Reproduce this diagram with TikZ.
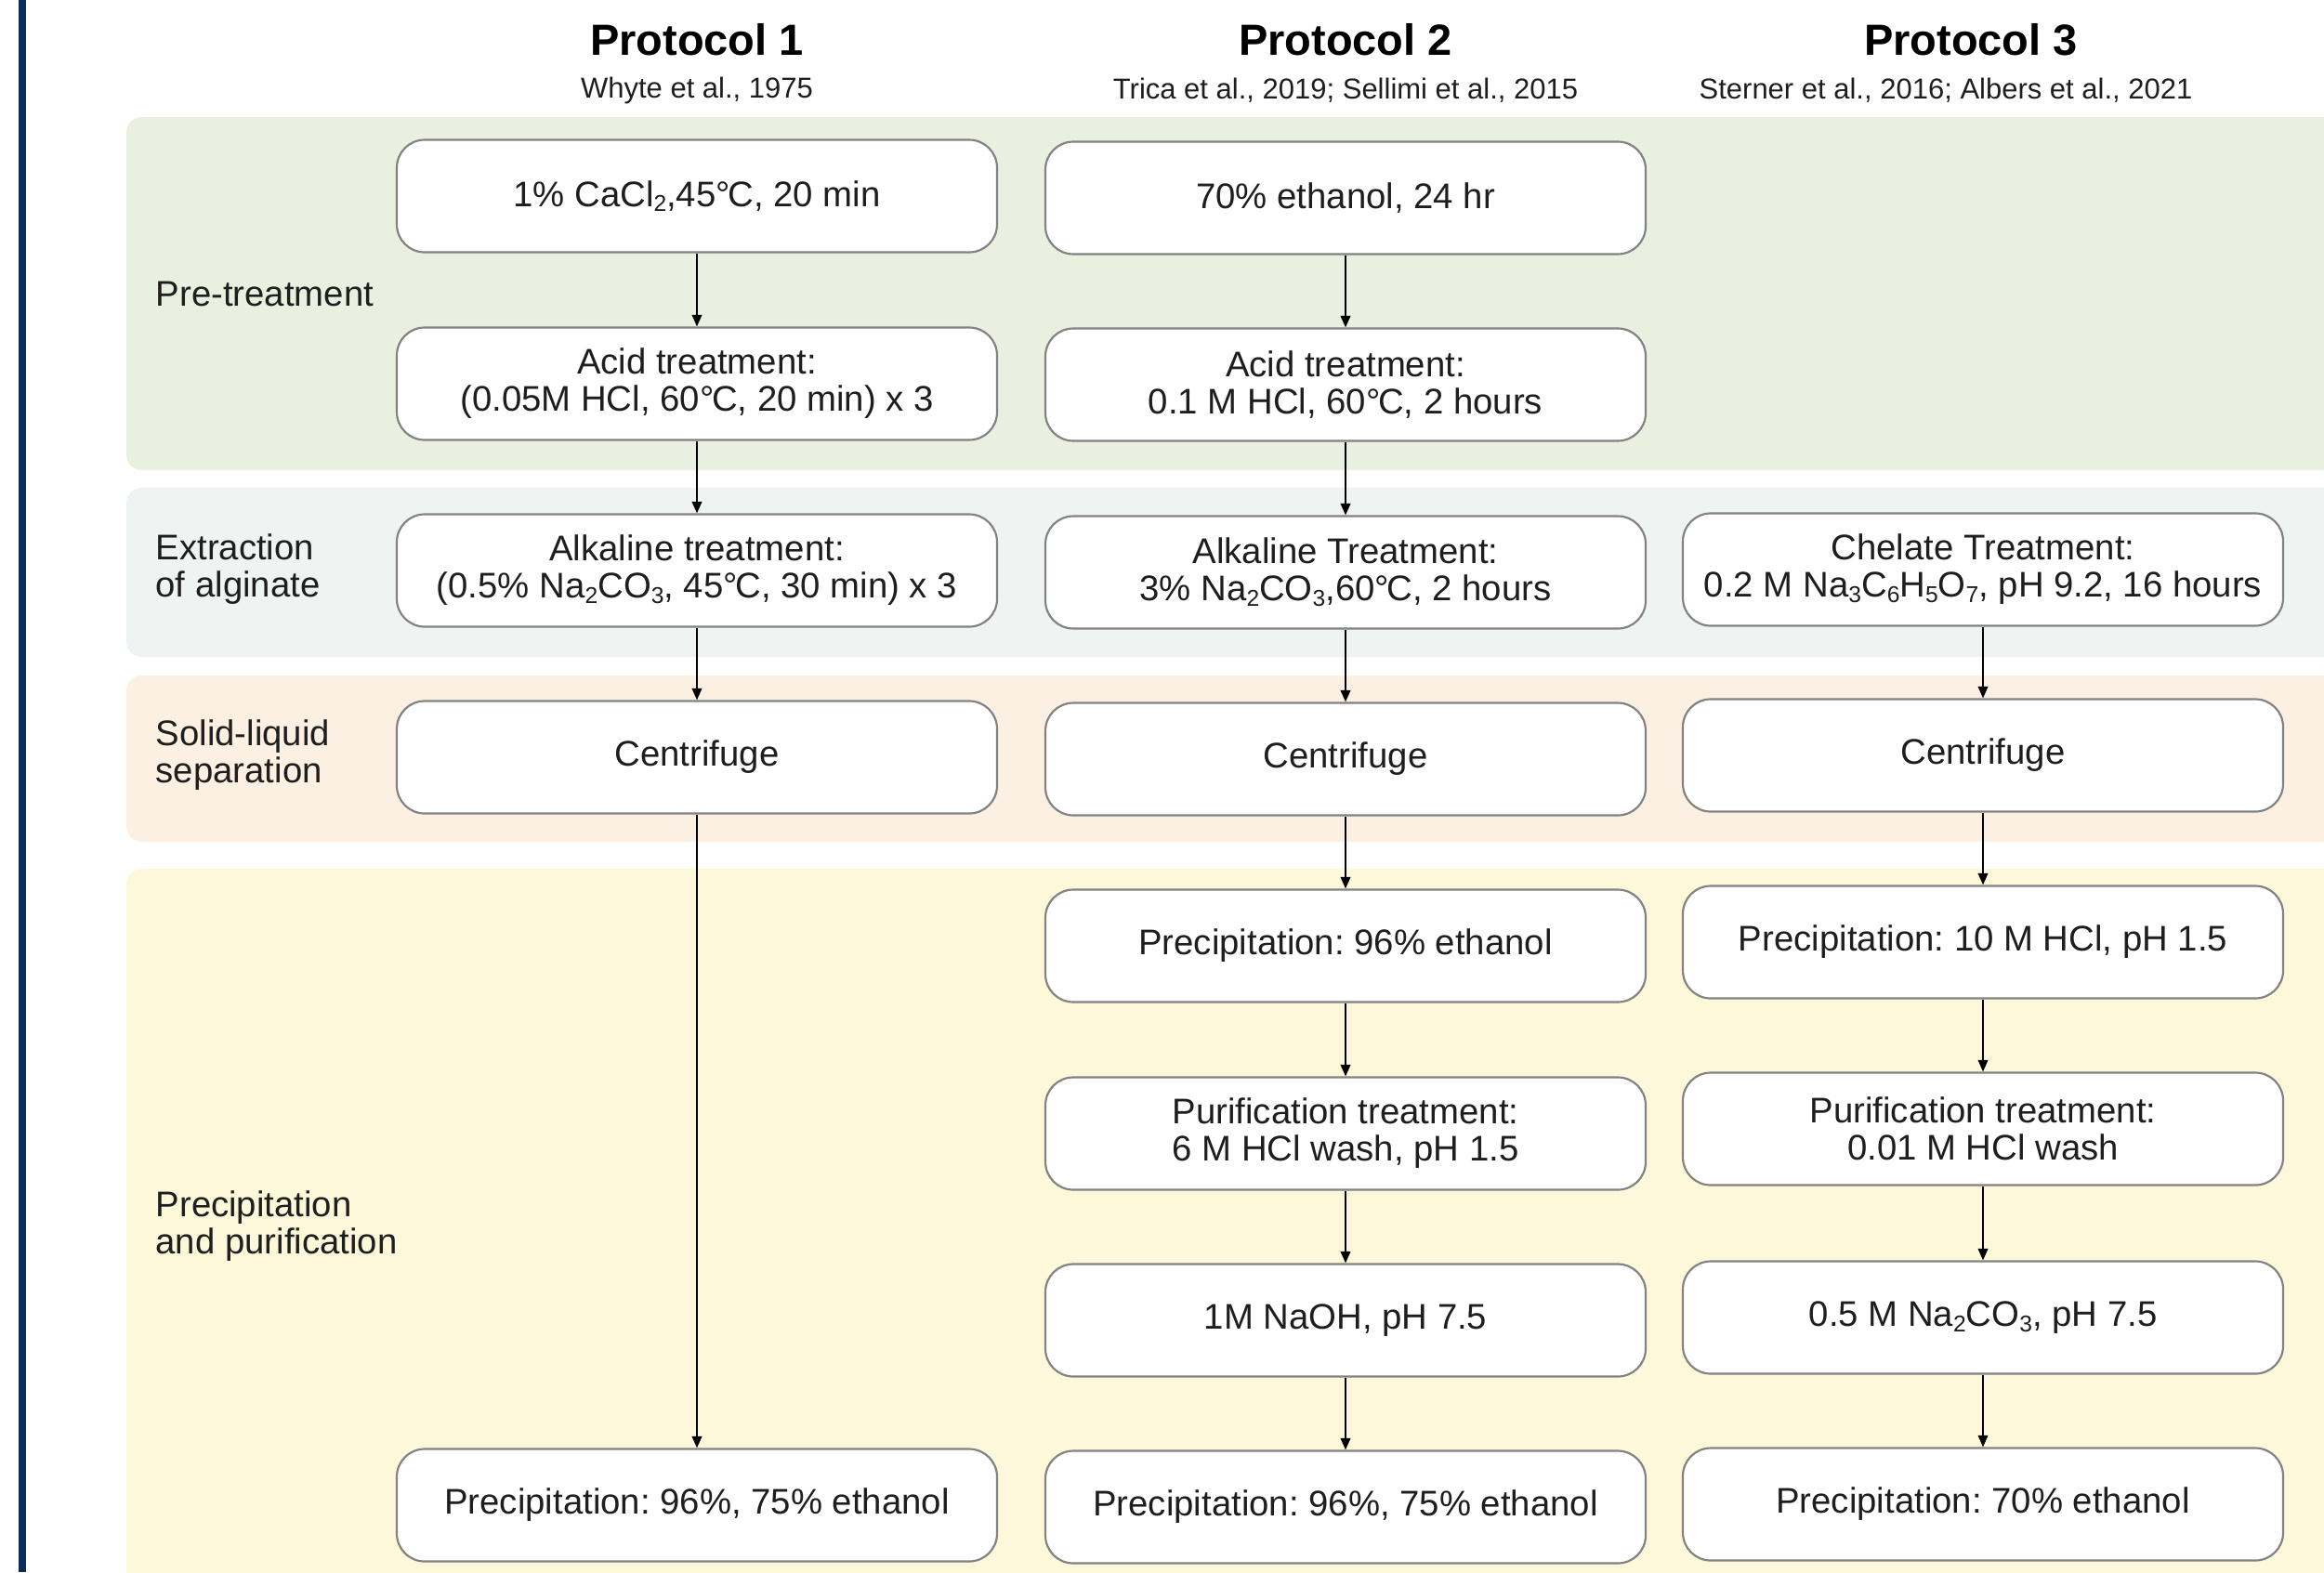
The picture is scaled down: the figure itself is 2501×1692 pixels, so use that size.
\documentclass[tikz,border=0pt]{standalone}
\usepackage{fontspec}
\setmainfont{Liberation Sans}
\usetikzlibrary{arrows.meta}
\definecolor{navybar}{RGB}{12,44,90}
\definecolor{bandgreen}{RGB}{233,240,223}
\definecolor{bandgray}{RGB}{239,243,241}
\definecolor{bandpeach}{RGB}{251,240,225}
\definecolor{bandyellow}{RGB}{253,248,218}
\definecolor{boxline}{RGB}{130,130,130}
\definecolor{txt}{RGB}{30,30,30}
\newcommand{\degC}{°\kern-0.06em C}
\newcommand{\chs}[1]{\raisebox{-0.28ex}{\fontsize{7.4}{8}\selectfont #1}}
\frenchspacing
\tikzset{
  stepbox/.style={rectangle, rounded corners=9pt, draw=boxline, line width=0.65pt,
    fill=white, minimum width=193.8pt, minimum height=36.3pt, inner sep=0pt,
    align=center, text=txt, font=\fontsize{11.5}{12}\selectfont},
  hdr/.style={font=\fontsize{14.1}{16}\selectfont\bfseries, text=black, inner sep=0pt},
  subhdr/.style={font=\fontsize{9.3}{11}\selectfont, text=txt, inner sep=0pt},
  sidelbl/.style={anchor=west, align=left, inner sep=0pt, text=txt,
    font=\fontsize{11.5}{12}\selectfont},
  arr/.style={-{Triangle[length=3.8pt,width=3.2pt]}, line width=0.6pt, black},
  band/.style={rounded corners=5pt}
}
\begin{document}
\begin{tikzpicture}[x=0.3pt,y=-0.3pt]
\useasboundingbox (0,0) rectangle (2501,1692);
% left bar
\fill[navybar] (20,0) rectangle (28,1692);
% bands
\fill[bandgreen, band] (136,126) rectangle (2560,506);
\fill[bandgray, band] (136,525) rectangle (2560,707);
\fill[bandpeach, band] (136,727) rectangle (2560,906);
\fill[bandyellow, band] (136,935) rectangle (2560,1740);
% headers
\node[hdr] (h1) at (750,43) {Protocol 1};
\node[subhdr] (s1) at (750,97) {Whyte et al., 1975};
\node[hdr] (h2) at (1448,43) {Protocol 2};
\node[subhdr] (s2) at (1448,97) {Trica et al., 2019; Sellimi et al., 2015};
\node[hdr] (h3) at (2121,43) {Protocol 3};
\node[subhdr] (s3) at (2094,97) {Sterner et al., 2016; Albers et al., 2021};
% side labels
\node[sidelbl] (l1) at (167,316) {Pre-treatment};
\node[sidelbl] (l2) at (167,613) {Extraction\\of alginate};
\node[sidelbl] (l3) at (167,813) {Solid-liquid\\separation};
\node[sidelbl] (l4) at (167,1320) {Precipitation\\and purification};
% column 1
\node[stepbox] (a1) at (750,211) {1\% CaCl\chs{2},45\degC, 20 min};
\node[stepbox] (b1) at (750,413) {Acid treatment:\\(0.05M HCl, 60\degC, 20 min) x 3};
\node[stepbox] (c1) at (750,614) {Alkaline treatment:\\(0.5\% Na\chs{2}CO\chs{3}, 45\degC, 30 min) x 3};
\node[stepbox] (d1) at (750,815) {Centrifuge};
\node[stepbox] (h1b) at (750,1620) {Precipitation: 96\%, 75\% ethanol};
% column 2
\node[stepbox] (a2) at (1448,213) {70\% ethanol, 24 hr};
\node[stepbox] (b2) at (1448,414) {Acid treatment:\\0.1 M HCl, 60\degC, 2 hours};
\node[stepbox] (c2) at (1448,616) {Alkaline Treatment:\\3\% Na\chs{2}CO\chs{3},60\degC, 2 hours};
\node[stepbox] (d2) at (1448,817) {Centrifuge};
\node[stepbox] (e2) at (1448,1018) {Precipitation: 96\% ethanol};
\node[stepbox] (f2) at (1448,1220) {Purification treatment:\\6 M HCl wash, pH 1.5};
\node[stepbox] (g2) at (1448,1421) {1M NaOH, pH 7.5};
\node[stepbox] (h2b) at (1448,1622) {Precipitation: 96\%, 75\% ethanol};
% column 3
\node[stepbox] (c3) at (2134,613) {Chelate Treatment:\\0.2 M Na\chs{3}C\chs{6}H\chs{5}O\chs{7}, pH 9.2, 16 hours};
\node[stepbox] (d3) at (2134,813) {Centrifuge};
\node[stepbox] (e3) at (2134,1014) {Precipitation: 10 M HCl, pH 1.5};
\node[stepbox] (f3) at (2134,1215) {Purification treatment:\\0.01 M HCl wash};
\node[stepbox] (g3) at (2134,1418) {0.5 M Na\chs{2}CO\chs{3}, pH 7.5};
\node[stepbox] (h3b) at (2134,1619) {Precipitation: 70\% ethanol};
% arrows
\draw[arr] (a1) -- (b1);
\draw[arr] (b1) -- (c1);
\draw[arr] (c1) -- (d1);
\draw[arr] (d1) -- (h1b);
\draw[arr] (a2) -- (b2);
\draw[arr] (b2) -- (c2);
\draw[arr] (c2) -- (d2);
\draw[arr] (d2) -- (e2);
\draw[arr] (e2) -- (f2);
\draw[arr] (f2) -- (g2);
\draw[arr] (g2) -- (h2b);
\draw[arr] (c3) -- (d3);
\draw[arr] (d3) -- (e3);
\draw[arr] (e3) -- (f3);
\draw[arr] (f3) -- (g3);
\draw[arr] (g3) -- (h3b);
\end{tikzpicture}
\end{document}
